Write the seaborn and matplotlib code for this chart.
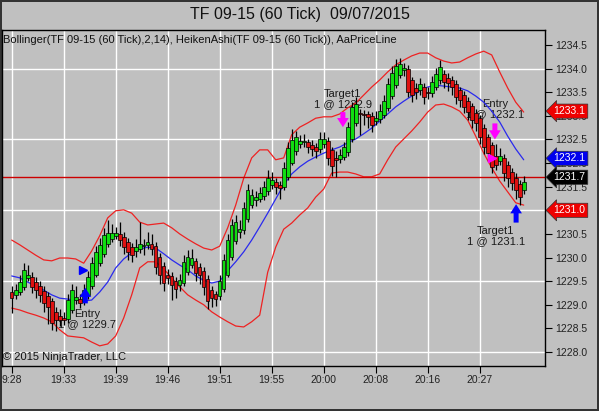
import numpy as np
import pandas as pd
import matplotlib
matplotlib.use('Agg')
import matplotlib.pyplot as plt
import seaborn as sns

# Heiken Ashi bars, one per bar index 0..128
ha_open = [
    1229.27, 1229.21, 1229.26, 1229.38, 1229.56, 1229.59, 1229.48, 1229.40, 1229.30, 1229.19,
    1229.08, 1228.85, 1228.76, 1228.72, 1228.70, 1228.89, 1229.10, 1229.13, 1229.08, 1229.20,
    1229.40, 1229.64, 1229.88, 1230.08, 1230.28, 1230.39, 1230.46, 1230.49, 1230.44, 1230.33,
    1230.22, 1230.14, 1230.18, 1230.24, 1230.26, 1230.29, 1230.24, 1230.01, 1229.82, 1229.64,
    1229.61, 1229.51, 1229.42, 1229.47, 1229.69, 1229.85, 1229.93, 1229.80, 1229.72, 1229.55,
    1229.31, 1229.23, 1229.18, 1229.33, 1229.64, 1230.01, 1230.35, 1230.55, 1230.58, 1230.82,
    1231.12, 1231.22, 1231.25, 1231.30, 1231.40, 1231.54, 1231.59, 1231.54, 1231.50, 1231.71,
    1232.01, 1232.26, 1232.40, 1232.44, 1232.45, 1232.39, 1232.34, 1232.30, 1232.40, 1232.46,
    1232.28, 1232.11, 1232.09, 1232.13, 1232.23, 1232.50, 1232.85, 1233.05, 1233.04, 1233.03,
    1233.00, 1232.90, 1232.93, 1233.02, 1233.17, 1233.42, 1233.66, 1233.86, 1233.98, 1233.99,
    1233.75, 1233.59, 1233.55, 1233.61, 1233.50, 1233.49, 1233.61, 1233.75, 1233.89, 1233.80,
    1233.75, 1233.67, 1233.54, 1233.44, 1233.31, 1233.20, 1233.06, 1232.95, 1232.75, 1232.55,
    1232.38, 1232.15, 1232.05, 1232.11, 1231.95, 1231.81, 1231.69, 1231.56, 1231.42]
ha_close = [
    1229.14, 1229.31, 1229.48, 1229.74, 1229.63, 1229.38, 1229.31, 1229.21, 1229.04, 1228.95,
    1228.61, 1228.68, 1228.68, 1228.68, 1229.10, 1229.31, 1229.16, 1229.04, 1229.31, 1229.59,
    1229.88, 1230.12, 1230.27, 1230.48, 1230.52, 1230.52, 1230.52, 1230.37, 1230.22, 1230.12,
    1230.05, 1230.22, 1230.29, 1230.27, 1230.33, 1230.18, 1229.80, 1229.63, 1229.46, 1229.57,
    1229.42, 1229.33, 1229.52, 1229.91, 1230.01, 1229.99, 1229.67, 1229.63, 1229.38, 1229.08,
    1229.14, 1229.12, 1229.50, 1229.95, 1230.37, 1230.69, 1230.75, 1230.60, 1231.05, 1231.43,
    1231.32, 1231.28, 1231.37, 1231.49, 1231.68, 1231.64, 1231.49, 1231.47, 1231.90, 1232.32,
    1232.49, 1232.55, 1232.47, 1232.47, 1232.34, 1232.30, 1232.26, 1232.51, 1232.51, 1232.11,
    1231.94, 1232.07, 1232.17, 1232.34, 1232.76, 1233.19, 1233.25, 1233.04, 1233.02, 1232.98,
    1232.81, 1232.95, 1233.10, 1233.31, 1233.67, 1233.91, 1234.06, 1234.10, 1234.01, 1233.50,
    1233.44, 1233.50, 1233.67, 1233.40, 1233.48, 1233.72, 1233.89, 1234.03, 1233.72, 1233.70,
    1233.61, 1233.40, 1233.34, 1233.19, 1233.08, 1232.91, 1232.85, 1232.55, 1232.34, 1232.21,
    1231.92, 1231.96, 1232.15, 1231.79, 1231.68, 1231.58, 1231.43, 1231.28, 1231.60]
ha_high = [
    1229.40, 1229.45, 1229.62, 1229.88, 1229.84, 1229.70, 1229.58, 1229.50, 1229.40, 1229.27,
    1229.15, 1228.95, 1228.90, 1228.85, 1229.22, 1229.45, 1229.40, 1229.22, 1229.45, 1229.72,
    1230.02, 1230.25, 1230.42, 1230.62, 1230.80, 1230.70, 1230.65, 1230.75, 1230.55, 1230.42,
    1230.30, 1230.40, 1230.75, 1230.40, 1230.55, 1230.50, 1230.32, 1230.10, 1229.90, 1229.75,
    1229.70, 1229.58, 1229.65, 1230.05, 1230.15, 1230.18, 1230.00, 1229.88, 1229.80, 1229.62,
    1229.40, 1229.30, 1229.62, 1230.08, 1230.50, 1230.82, 1230.90, 1230.80, 1231.18, 1231.55,
    1231.45, 1231.40, 1231.50, 1231.62, 1231.85, 1231.82, 1231.68, 1231.62, 1232.02, 1232.45,
    1232.72, 1232.68, 1232.60, 1232.62, 1232.52, 1232.48, 1232.42, 1232.65, 1232.65, 1232.55,
    1232.35, 1232.25, 1232.30, 1232.45, 1232.88, 1233.30, 1233.40, 1233.15, 1233.12, 1233.10,
    1233.08, 1233.10, 1233.25, 1233.45, 1233.80, 1234.05, 1234.20, 1234.22, 1234.12, 1234.08,
    1233.82, 1233.70, 1233.80, 1233.70, 1233.62, 1233.85, 1234.02, 1234.18, 1233.98, 1233.90,
    1233.85, 1233.75, 1233.62, 1233.52, 1233.40, 1233.28, 1233.15, 1233.02, 1232.82, 1232.62,
    1232.45, 1232.40, 1232.32, 1232.20, 1232.05, 1231.90, 1231.78, 1231.65, 1231.72]
ha_low = [
    1228.83, 1229.12, 1229.20, 1229.32, 1229.50, 1229.25, 1229.15, 1229.05, 1228.85, 1228.60,
    1228.47, 1228.45, 1228.55, 1228.58, 1228.62, 1228.82, 1229.02, 1228.93, 1229.00, 1229.12,
    1229.34, 1229.58, 1229.82, 1230.02, 1230.22, 1230.33, 1230.40, 1230.25, 1230.08, 1229.95,
    1229.90, 1230.02, 1230.10, 1230.05, 1230.18, 1230.05, 1229.65, 1229.45, 1229.30, 1229.45,
    1229.10, 1229.15, 1229.30, 1229.40, 1229.62, 1229.78, 1229.50, 1229.45, 1229.20, 1228.90,
    1228.95, 1228.98, 1229.10, 1229.26, 1229.58, 1229.95, 1230.28, 1230.42, 1230.50, 1230.75,
    1231.05, 1231.10, 1231.18, 1231.22, 1231.32, 1231.45, 1231.35, 1231.25, 1231.42, 1231.65,
    1231.95, 1232.18, 1232.32, 1232.35, 1232.22, 1232.15, 1232.10, 1232.22, 1232.32, 1231.95,
    1231.72, 1231.70, 1232.00, 1232.06, 1232.16, 1232.44, 1232.78, 1232.60, 1232.80, 1232.75,
    1232.65, 1232.80, 1232.85, 1232.95, 1233.10, 1233.35, 1233.60, 1233.80, 1233.85, 1233.40,
    1233.30, 1233.35, 1233.45, 1233.25, 1233.35, 1233.40, 1233.55, 1233.68, 1233.58, 1233.52,
    1233.45, 1233.25, 1233.18, 1233.05, 1232.92, 1232.75, 1232.68, 1232.40, 1232.20, 1232.05,
    1231.80, 1231.85, 1231.95, 1231.62, 1231.50, 1231.42, 1231.25, 1231.12, 1231.35]

# Bollinger(2,14), read every second bar
band_bars = list(range(0, 129, 2))
bb_upper = [
    1230.37, 1230.27, 1230.16, 1230.05, 1229.95, 1229.93, 1229.99, 1229.99, 1229.97, 1229.88,
    1230.14, 1230.46, 1230.84, 1230.99, 1231.01, 1230.94, 1230.75, 1230.69, 1230.71, 1230.73,
    1230.63, 1230.50, 1230.39, 1230.29, 1230.20, 1230.16, 1230.24, 1230.63, 1231.11, 1231.68,
    1232.11, 1232.28, 1232.28, 1232.07, 1232.11, 1232.60, 1232.76, 1232.85, 1232.95, 1232.98,
    1232.98, 1233.04, 1233.17, 1233.27, 1233.44, 1233.61, 1233.76, 1233.93, 1234.08, 1234.18,
    1234.27, 1234.33, 1234.33, 1234.23, 1234.16, 1234.12, 1234.14, 1234.23, 1234.31, 1234.37,
    1234.29, 1233.93, 1233.59, 1233.29, 1233.08]
bb_middle = [
    1229.61, 1229.57, 1229.48, 1229.40, 1229.31, 1229.21, 1229.14, 1229.12, 1229.10, 1229.08,
    1229.10, 1229.27, 1229.48, 1229.78, 1229.97, 1230.10, 1230.18, 1230.22, 1230.20, 1230.08,
    1229.95, 1229.84, 1229.74, 1229.61, 1229.52, 1229.46, 1229.50, 1229.72, 1229.91, 1230.12,
    1230.37, 1230.65, 1230.94, 1231.24, 1231.54, 1231.77, 1231.92, 1232.04, 1232.13, 1232.21,
    1232.28, 1232.34, 1232.43, 1232.51, 1232.62, 1232.74, 1232.89, 1233.04, 1233.19, 1233.31,
    1233.42, 1233.53, 1233.61, 1233.65, 1233.63, 1233.61, 1233.59, 1233.53, 1233.42, 1233.29,
    1233.10, 1232.87, 1232.57, 1232.30, 1232.07]
bb_lower = [
    1228.93, 1228.89, 1228.83, 1228.78, 1228.72, 1228.64, 1228.47, 1228.34, 1228.32, 1228.30,
    1228.21, 1228.13, 1228.17, 1228.34, 1228.72, 1229.21, 1229.78, 1229.91, 1229.91, 1229.76,
    1229.57, 1229.38, 1229.21, 1229.10, 1229.00, 1228.85, 1228.74, 1228.64, 1228.55, 1228.53,
    1228.64, 1228.78, 1229.69, 1230.22, 1230.60, 1230.73, 1230.90, 1231.05, 1231.28, 1231.45,
    1231.79, 1231.81, 1231.81, 1231.77, 1231.71, 1231.71, 1231.77, 1232.07, 1232.34, 1232.51,
    1232.68, 1232.87, 1233.08, 1233.23, 1233.25, 1233.19, 1233.10, 1232.91, 1232.57, 1232.21,
    1231.90, 1231.62, 1231.39, 1231.16, 1231.11]

tick_bars = [0, 13, 26, 39, 52, 65, 78, 91, 104, 117]
tick_labels = ['9:28', '19:33', '19:39', '19:46', '19:51', '19:55', '20:00', '20:08', '20:16', '20:27']
price_ticks = [1228.0, 1228.5, 1229.0, 1229.5, 1230.0, 1230.5, 1231.0, 1231.5,
               1232.0, 1232.5, 1233.0, 1233.5, 1234.0, 1234.5]
grid_prices = [1228.0, 1229.5, 1231.0, 1232.5, 1234.0]
last_price = 1231.7

# right-hand price flags
flag_prices = [1233.1, 1232.1, 1231.7, 1231.0]
flag_colors = ['#ee0000', '#0000ee', '#000000', '#ee0000']

# trade markers
entry_tri_bars = [17.8, 120.0]
entry_tri_prices = [1229.73, 1232.11]
entry_tri_colors = ['#0000ff', '#ff00ff']
arrow_bars = [18.4, 82.8, 120.8, 126.1]
arrow_tail = [1229.03, 1233.08, 1232.84, 1230.74]
arrow_tip = [1229.36, 1232.76, 1232.50, 1231.13]
arrow_colors = ['#0000ff', '#ff00ff', '#ff00ff', '#0000ff']
trade_texts = ['Entry\n1 @ 1229.7', 'Target1\n1 @ 1232.9', 'Entry\n1 @ 1232.1', 'Target1\n1 @ 1231.1']
trade_text_bars = [18.8, 82.8, 120.8, 121.0]
trade_text_prices = [1228.69, 1233.36, 1233.14, 1230.46]

sns.set_theme(style='white', rc={'axes.facecolor': '#c0c0c0', 'figure.facecolor': '#c0c0c0',
                                 'axes.edgecolor': 'black', 'axes.linewidth': 1.0})
plt.rcParams['font.family'] = ['Liberation Sans', 'DejaVu Sans']

fig = plt.figure(figsize=(5.99, 4.11), dpi=100)
ax = fig.add_axes([2 / 599, 45.5 / 411, 543 / 599, 335.5 / 411])

# grid
for p in grid_prices:
    ax.axhline(p, color='white', lw=1.0, zorder=0.5)
for b in tick_bars:
    ax.axvline(b, color='white', lw=1.0, zorder=0.5)

# trade labels sit under the bars
for t, b, p in zip(trade_texts, trade_text_bars, trade_text_prices):
    ax.text(b, p, t, ha='center', va='center', fontsize=8, color='#1a1a1a',
            linespacing=1.05, zorder=1)

bands = pd.DataFrame({'bar': band_bars, 'upper': bb_upper, 'middle': bb_middle, 'lower': bb_lower})
sns.lineplot(data=bands, x='bar', y='upper', color='#ee2222', lw=0.9, ax=ax, zorder=2)
sns.lineplot(data=bands, x='bar', y='lower', color='#ee2222', lw=0.9, ax=ax, zorder=2)
sns.lineplot(data=bands, x='bar', y='middle', color='#2a2aee', lw=0.9, ax=ax, zorder=2)

ax.axhline(last_price, color='#cc0000', lw=1.0, zorder=2.2)

# Heiken Ashi candles
bars = np.arange(len(ha_open))
o = np.array(ha_open)
c = np.array(ha_close)
colors = np.where(c >= o, '#11dd11', '#dd1111')
ax.vlines(bars, ha_low, ha_high, color='black', lw=0.9, zorder=3)
ax.bar(bars, c - o, bottom=o, width=0.9, color=colors, edgecolor='black', linewidth=0.5, zorder=4)

# trade markers
for b, p, col in zip(entry_tri_bars, entry_tri_prices, entry_tri_colors):
    ax.plot(b, p, marker='>', ms=6, color=col, mec=col, zorder=5)
for b, t0, t1, col in zip(arrow_bars, arrow_tail, arrow_tip, arrow_colors):
    ax.annotate('', xy=(b, t1), xytext=(b, t0),
                arrowprops=dict(arrowstyle='simple,head_width=0.7,head_length=0.55,tail_width=0.3',
                                color=col, lw=0, shrinkA=0, shrinkB=0), zorder=5)

ax.set_xlim(-2.425, 133.325)
ax.set_ylim(1227.714, 1234.818)
ax.set_xlabel('')
ax.set_ylabel('')
ax.set_xticks(tick_bars)
ax.set_xticklabels(tick_labels)
ax.set_yticks(price_ticks)
ax.set_yticklabels([f'{p:.1f}' for p in price_ticks])
ax.yaxis.tick_right()
ax.tick_params(axis='y', which='both', right=True, left=False, direction='out', length=5,
               width=0.8, pad=2, labelsize=7.5, labelcolor='#222222', color='black')
ax.tick_params(axis='x', bottom=True, direction='out', length=5, width=0.8, pad=2,
               labelsize=7.5, labelcolor='#222222', color='black')
for s in ax.spines.values():
    s.set_color('black')
    s.set_linewidth(1.0)

# price flags on the right axis
for p, col in zip(flag_prices, flag_colors):
    ax.text(1.016, p, f'{p:.1f}', transform=ax.get_yaxis_transform(), ha='left', va='center',
            fontsize=7.5, color='white', zorder=10, clip_on=False,
            bbox=dict(boxstyle='larrow,pad=0.2', fc=col, ec='#333333', lw=0.5))

ax.text(0.002, 0.970, 'Bollinger(TF 09-15 (60 Tick),2,14), HeikenAshi(TF 09-15 (60 Tick)), AaPriceLine',
        transform=ax.transAxes, ha='left', va='center', fontsize=8, color='#111111', zorder=6)
ax.text(0.002, 0.026, '\u00a9 2015 NinjaTrader, LLC', transform=ax.transAxes, ha='left',
        va='center', fontsize=8, color='#111111', zorder=6)

fig.text(0.5, 1 - 14.5 / 411, 'TF 09-15 (60 Tick)  09/07/2015', ha='center', va='center',
         fontsize=11.5, color='#111111')
fig.patch.set_edgecolor('#333333')
fig.patch.set_linewidth(1.5)

fig.savefig('out.png', dpi=100, facecolor=fig.get_facecolor(), edgecolor=fig.get_edgecolor())
